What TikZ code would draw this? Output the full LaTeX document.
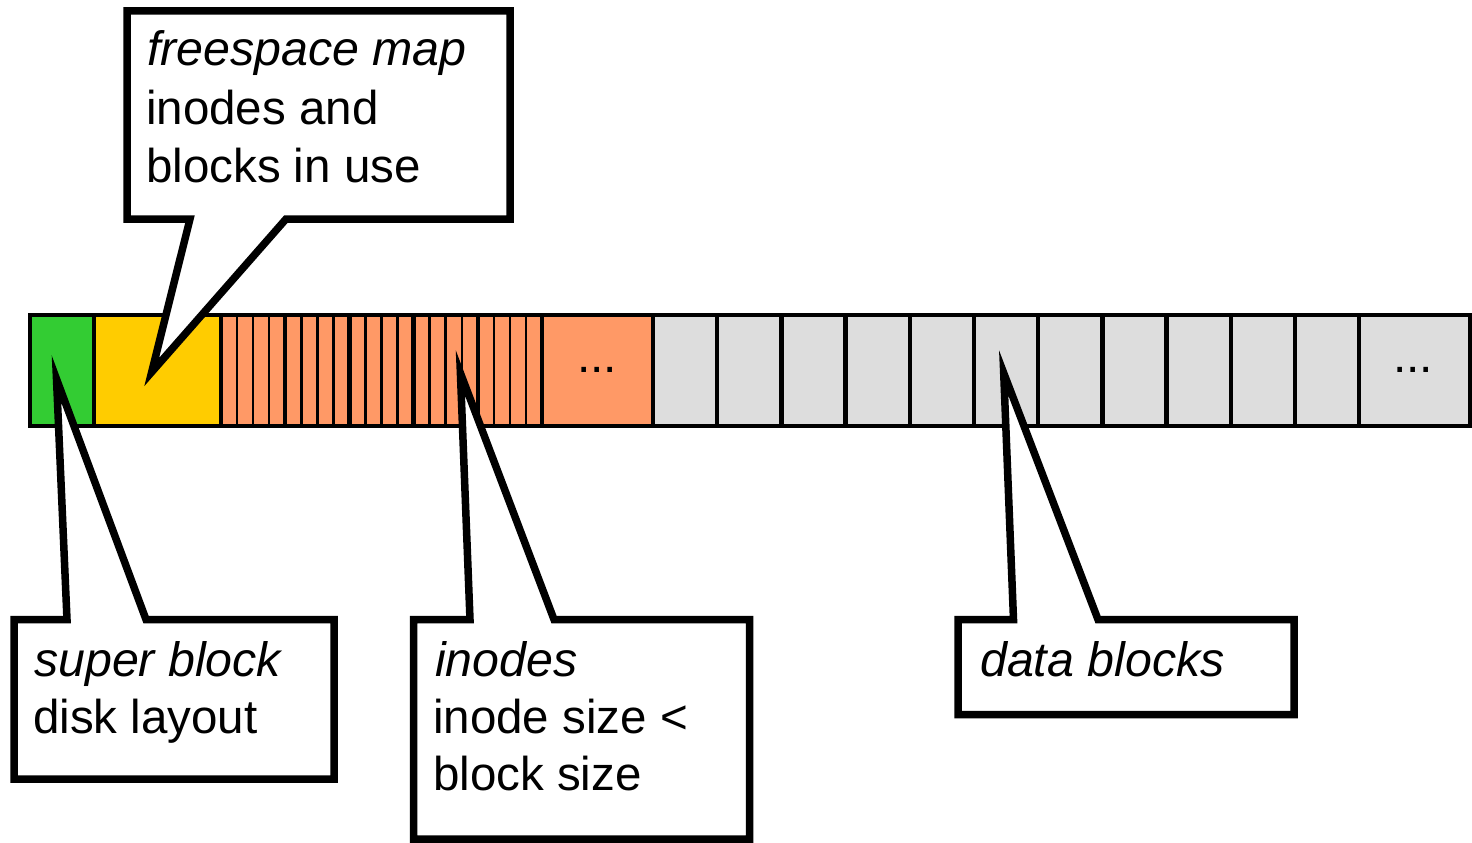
\documentclass[tikz,border=0pt]{standalone}
\usepackage{fontspec}
\setmainfont{Liberation Sans}
\definecolor{sbgreen}{HTML}{33CC33}
\definecolor{fsyellow}{HTML}{FFCC00}
\definecolor{inorange}{HTML}{FF9966}
\definecolor{dgray}{HTML}{DDDDDD}
\begin{document}
\begin{tikzpicture}[x=1pt,y=-1pt,
  thickdiv/.style={draw=black,line width=4.5pt},
  thindiv/.style={draw=black,line width=2.5pt},
  callout/.style={draw=black,fill=white,line width=7.5pt,line join=miter,miter limit=10},
  lbl/.style={anchor=base west,inner sep=0pt,font=\fontsize{47.5}{57}\selectfont},
  ilbl/.style={anchor=base west,inner sep=0pt,font=\fontsize{48.3}{57}\selectfont\itshape},
  dots/.style={anchor=base,inner sep=0pt,font=\fontsize{48}{57}\selectfont}]
\useasboundingbox (0,0) rectangle (1472,843);
% bar fills
\fill[sbgreen] (30,315) rectangle (94,426);
\fill[fsyellow] (94,315) rectangle (221,426);
\fill[inorange] (221,315) rectangle (653,426);
\fill[dgray] (653,315) rectangle (1471,426);
% thin inode strips
\foreach \i in {0,...,4}{
  \foreach \j in {1,2,3}{
    \draw[thindiv] ({221+64.2*\i+16.05*\j},315) -- ++(0,111);
  }
}
% thick dividers
\foreach \x in {94,221,285.2,349.4,413.6,477.8,542,653,717.2,781.4,845.6,909.8,974,1038.2,1102.4,1166.6,1230.8,1295,1359.2}{
  \draw[thickdiv] (\x,315) -- (\x,426);
}
\draw[thickdiv] (30,315) rectangle (1470,426);
\node[dots] (dots1) at (597,372) {...};
\node[dots] (dots2) at (1413,372) {...};
% callouts
\draw[callout] (127,11) -- (510,11) -- (510,219) -- (286,219) -- (151.7,372) -- (190,219) -- (127,219) -- cycle;
\draw[callout] (14,619.5) -- (67,619.5) -- (56.5,379) -- (146,619.5) -- (334,619.5) -- (334,779) -- (14,779) -- cycle;
\draw[callout] (413.7,619.5) -- (470,619.5) -- (460.4,373) -- (554,619.5) -- (749.5,619.5) -- (749.5,839) -- (413.7,839) -- cycle;
\draw[callout] (958,619.5) -- (1013.5,619.5) -- (1003.7,373) -- (1098,619.5) -- (1294,619.5) -- (1294,714.7) -- (958,714.7) -- cycle;
% texts
\node[ilbl] (fs1) at (147,66) {freespace map};
\node[lbl] (fs2) at (146,124) {inodes and};
\node[lbl] (fs3) at (146,182) {blocks in use};
\node[ilbl] (sb1) at (34,676) {super block};
\node[lbl] (sb2) at (33,733) {disk layout};
\node[ilbl] (in1) at (435,676) {inodes};
\node[lbl] (in2) at (433,733) {inode size <};
\node[lbl] (in3) at (433,790) {block size};
\node[ilbl] (db1) at (980,676) {data blocks};
\end{tikzpicture}
\end{document}
